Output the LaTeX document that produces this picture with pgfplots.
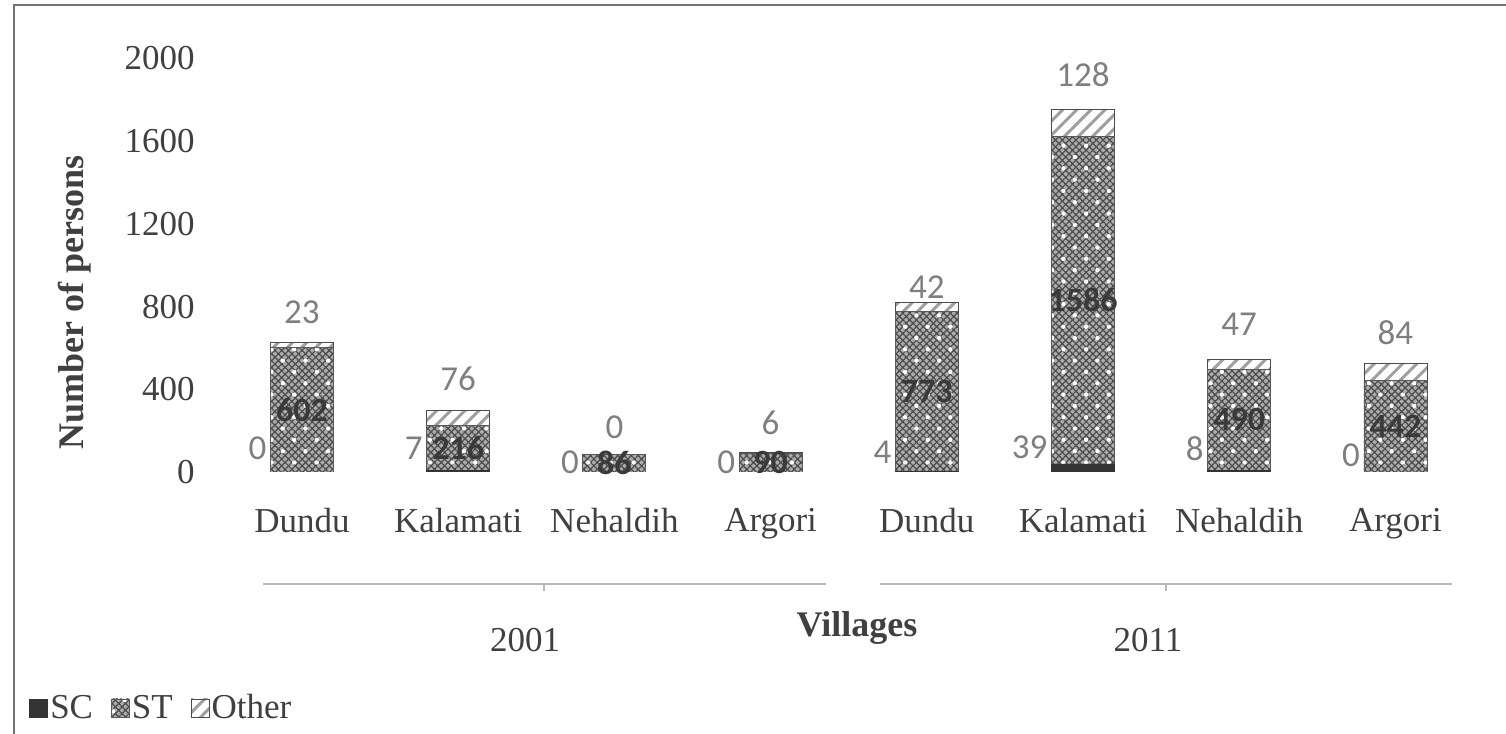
\documentclass[border=0pt]{standalone}
\usepackage{fontspec}
\setmainfont{Liberation Serif}
\newfontfamily\calib{Carlito}
\usepackage{pgfplots}
\pgfplotsset{compat=1.18}
\usetikzlibrary{patterns,patterns.meta}

\definecolor{txt}{HTML}{404040}
\definecolor{lbl}{HTML}{7F7F7F}
\definecolor{stl}{HTML}{3A3A3A}

\begin{document}
\begin{tikzpicture}
\useasboundingbox (0,0) rectangle (753pt,367pt);
% outer frame
\draw[line width=1pt, color=black!55] (7pt,-5pt) -- (7pt,364.5pt) -- (760pt,364.5pt);

\begin{axis}[
  at={(113.5pt,131pt)}, anchor=south west,
  scale only axis, width=623.25pt, height=206.75pt,
  xmin=-0.48, xmax=7.5, ymin=0, ymax=2000,
  ybar stacked, bar width=31.5pt,
  axis line style={draw=none},
  major tick length=0pt,
  xtick={0,...,7},
  xticklabels={Dundu,Kalamati,Nehaldih,Argori,Dundu,Kalamati,Nehaldih,Argori},
  ytick={0,400,...,2000},
  /pgf/number format/assume math mode=true,
  /pgf/number format/1000 sep={},
  ticklabel style={font=\fontsize{17.5}{20}\selectfont, text=txt},
  xticklabel style={inner sep=0pt, anchor=north, yshift=-18pt},
  yticklabel style={inner sep=0pt, anchor=east, xshift=-16pt},
  ylabel={Number of persons},
  ylabel style={at={(axis description cs:-0.122,0.41)}, anchor=center, font=\bfseries\fontsize{18}{20}\selectfont, text=txt},
  xlabel={Villages},
  xlabel style={at={(axis description cs:0.5054,-0.377)}, anchor=center, font=\bfseries\fontsize{18}{20}\selectfont, text=txt},
  legend style={at={(axis description cs:-0.1588,-0.5707)}, anchor=west, draw=none, fill=none,
     legend columns=-1, font=\fontsize{17.5}{20}\selectfont, text=txt, inner sep=0pt,
     nodes={inner sep=1pt},
     /tikz/every even column/.append style={column sep=8pt}},
  legend image code/.code={\draw[#1] (0pt,-4.5pt) rectangle (9pt,4.5pt);},
]
\addplot[fill=black!80, draw=black!80] coordinates {(0,0) (1,7) (2,0) (3,0) (4,4) (5,39) (6,8) (7,0)};
\addlegendentry{SC}
\addplot[fill=gray!65, draw=black!65,
  postaction={pattern={Hatch[angle=45,distance=2.4pt,line width=0.6pt]}, pattern color=black!70},
  postaction={pattern={Dots[radius=1.1pt,distance=8pt,angle=45]}, pattern color=white}]
  coordinates {(0,602) (1,216) (2,86) (3,90) (4,773) (5,1586) (6,490) (7,442)};
\addlegendentry{ST}
\addplot[fill=white, draw=gray!60!black,
  postaction={pattern={Lines[angle=45,distance=5pt,line width=1.5pt]}, pattern color=gray!75}]
  coordinates {(0,23) (1,76) (2,0) (3,6) (4,42) (5,128) (6,47) (7,84)};
\addlegendentry{Other}
\end{axis}

% data labels
\begin{axis}[
  at={(113.5pt,131pt)}, anchor=south west,
  scale only axis, width=623.25pt, height=206.75pt,
  xmin=-0.48, xmax=7.5, ymin=0, ymax=2000,
  hide axis, clip=false,
]
\addplot[draw=none, mark=none, nodes near coords, point meta=explicit symbolic,
  nodes near coords align={center},
  every node near coord/.append style={anchor=center, inner sep=0pt, font=\calib\fontsize{17.5}{20}\selectfont, text=lbl}]
  coordinates {(0,774)[23] (1,450)[76] (2,218)[0] (3,237)[6] (4,895)[42] (5,1920)[128] (6,716)[47] (7,672)[84]};
\addplot[draw=none, mark=none, nodes near coords, point meta=explicit symbolic,
  nodes near coords align={center},
  every node near coord/.append style={anchor=center, inner sep=0pt, font=\calib\bfseries\fontsize{17}{20}\selectfont, text=stl}]
  coordinates {(0,301)[602] (1,115)[216] (2,43)[86] (3,45)[90] (4,390)[773] (5,832)[1586] (6,253)[490] (7,221)[442]};
\addplot[draw=none, mark=none, nodes near coords, point meta=explicit symbolic,
  nodes near coords align={center},
  every node near coord/.append style={anchor=east, inner sep=0pt, font=\calib\fontsize{17.5}{20}\selectfont, text=lbl}]
  coordinates {(-0.225,116)[0] (0.775,116)[7] (1.775,48)[0] (2.775,48)[0] (3.775,97)[4] (4.775,121)[39] (5.775,111)[8] (6.775,82)[0]};
\end{axis}

% group brackets and years
\begin{scope}[x=0.5pt,y=0.5pt]
\draw[gray!55, line width=1pt] (263,150) -- (826,150);
\draw[gray!55, line width=1pt] (544,150) -- (544,143);
\draw[gray!55, line width=1pt] (880,150) -- (1452,150);
\draw[gray!55, line width=1pt] (1166,150) -- (1166,143);
\node[font=\fontsize{17.5}{20}\selectfont, text=txt] at (525,94) {2001};
\node[font=\fontsize{17.5}{20}\selectfont, text=txt] at (1148,94) {2011};
\end{scope}
\end{tikzpicture}
\end{document}
